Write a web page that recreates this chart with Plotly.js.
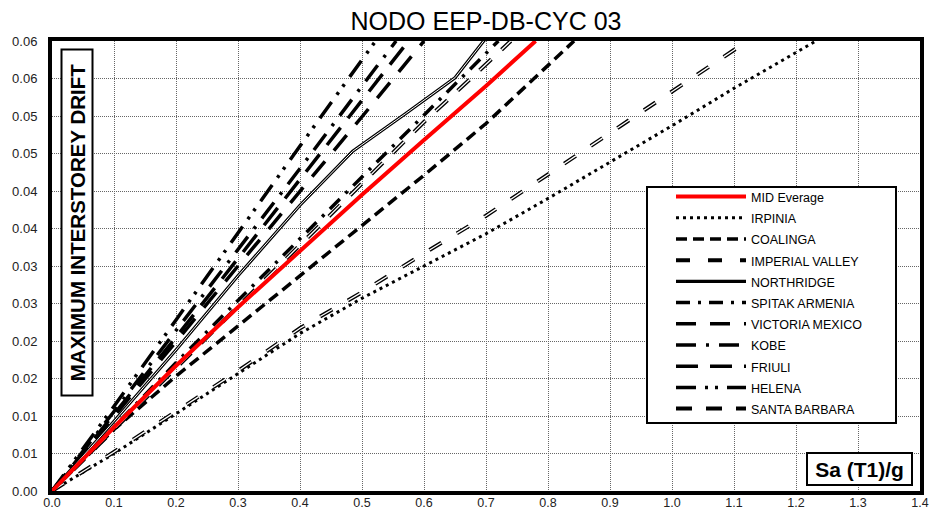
<!DOCTYPE html>
<html><head><meta charset="utf-8">
<script src="https://cdn.plot.ly/plotly-3.0.1.min.js"></script>
<style>html,body{margin:0;padding:0;background:#fff}</style>
</head><body><div id="chart" style="width:932px;height:512px"></div>
<script>
// ---- data (Sa(T1)/g vs maximum interstorey drift) ----
const midX  = [0, 0.1, 0.2, 0.3, 0.4, 0.5, 0.6, 0.7, 0.78];
const midY  = [0, 0.0085, 0.0167, 0.0245, 0.032, 0.0395, 0.0468, 0.054, 0.06];
const irpX  = [0, 0.1, 0.2, 0.3, 0.4, 0.5, 0.6, 0.7, 0.8, 0.9, 1.0, 1.1, 1.2, 1.23];
const irpY  = [0, 0.005, 0.0103, 0.0157, 0.021, 0.0257, 0.030, 0.0343, 0.039, 0.0438, 0.0487, 0.0537, 0.0585, 0.0599];
const coaX  = [0, 0.1, 0.2, 0.3, 0.4, 0.5, 0.6, 0.7, 0.8, 0.842];
const coaY  = [0, 0.0082, 0.0153, 0.022, 0.0288, 0.0354, 0.0421, 0.049, 0.0568, 0.06];
const impX  = [0, 0.1, 0.2, 0.3, 0.4, 0.5, 0.6, 0.7, 0.8, 0.9, 1.0, 1.1, 1.12];
const impY  = [0, 0.0052, 0.0106, 0.016, 0.0217, 0.0265, 0.0317, 0.0367, 0.0422, 0.0477, 0.0533, 0.0588, 0.06];
const norX  = [0, 0.1, 0.2, 0.3, 0.4, 0.485, 0.57, 0.65, 0.70];
const norY  = [0, 0.0093, 0.0188, 0.0287, 0.0381, 0.0453, 0.0503, 0.0551, 0.0604];
const spiX  = [0, 0.1, 0.2, 0.3, 0.4, 0.5, 0.6, 0.7, 0.72];
const spiY  = [0, 0.0086, 0.0171, 0.0254, 0.0336, 0.0418, 0.05, 0.0583, 0.06];
const vicX  = [0, 0.1, 0.2, 0.3, 0.4, 0.5, 0.6];
const vicY  = [0, 0.0099, 0.0199, 0.03, 0.0399, 0.0499, 0.06];
const kobX  = [0, 0.1, 0.2, 0.3, 0.4, 0.5, 0.555];
const kobY  = [0, 0.0106, 0.0214, 0.0322, 0.043, 0.054, 0.06];
const friX  = [0, 0.1, 0.2, 0.3, 0.4, 0.5, 0.575];
const friY  = [0, 0.0102, 0.0205, 0.031, 0.0415, 0.052, 0.06];
const helX  = [0, 0.1, 0.2, 0.3, 0.4, 0.5, 0.522];
const helY  = [0, 0.0113, 0.0228, 0.0345, 0.046, 0.0575, 0.06];
const sbaX  = [0, 0.1, 0.2, 0.3, 0.4, 0.5, 0.6, 0.7, 0.74];
const sbaY  = [0, 0.0082, 0.0163, 0.0245, 0.0327, 0.041, 0.0492, 0.0569, 0.06];

const seriesNames = ['MID Everage','IRPINIA','COALINGA','IMPERIAL VALLEY','NORTHRIDGE',
  'SPITAK ARMENIA','VICTORIA MEXICO','KOBE','FRIULI','HELENA','SANTA BARBARA'];

const xTickVals = [0,0.1,0.2,0.3,0.4,0.5,0.6,0.7,0.8,0.9,1.0,1.1,1.2,1.3,1.4];
const yTickVals = [0,0.005,0.01,0.015,0.02,0.025,0.03,0.035,0.04,0.045,0.05,0.055,0.06];
const yTickText = ['0.00','0.01','0.01','0.02','0.02','0.03','0.03','0.04','0.04','0.05','0.05','0.06','0.06'];

const chartTitle = 'NODO EEP-DB-CYC 03';
const yTitle = 'MAXIMUM INTERSTOREY DRIFT';
const xTitle = 'Sa (T1)/g';

// ---- styles ----
const FONT = 'Liberation Sans, Arial, sans-serif';
function lbl(s){ return '<span style="font-size:12.5px">' + s + '</span>'; }
function tr(x, y, idx, color, width, dash, extra){
  return Object.assign({x:x, y:y, type:'scatter', mode:'lines', name:lbl(seriesNames[idx]),
    legendrank: idx+1, hoverinfo:'skip',
    line:{color:color, width:width, dash:dash}}, extra||{});
}
function hollow(x, y, dash){
  return {x:x, y:y, type:'scatter', mode:'lines', showlegend:false, hoverinfo:'skip',
    line:{color:'#ffffff', width:1.3, dash:dash}};
}
const dImp = '14px,18px', dSba = '16px,14px';
const traces = [
  tr(irpX, irpY, 1, '#000', 3, '3px,4px'),
  tr(impX, impY, 3, '#000', 4, dImp),
  tr(coaX, coaY, 2, '#000', 3.5, '11px,6px'),
  tr(sbaX, sbaY, 10, '#000', 4, dSba),
  tr(spiX, spiY, 5, '#000', 3.5, '14px,8px,3px,8px'),
  tr(norX, norY, 4, '#000', 3.2, 'solid'),
  tr(friX, friY, 8, '#000', 3.5, '22px,12px'),
  tr(vicX, vicY, 6, '#000', 3.5, '20px,14px'),
  tr(kobX, kobY, 7, '#000', 3.5, '20px,10px,3px,10px'),
  tr(helX, helY, 9, '#000', 3.5, '20px,9px,3px,7px,3px,9px'),
  hollow(impX, impY, dImp),
  hollow(sbaX, sbaY, dSba),
  {x:norX, y:norY, type:'scatter', mode:'lines', showlegend:false, hoverinfo:'skip',
    line:{color:'#ffffff', width:1}},
  tr(midX, midY, 0, '#ff0000', 4, 'solid')
];

const pl = 52, pr = 920, pt = 41, pb = 491;
const W = pr - pl, H = pb - pt;
const px = v => (v - pl) / W;
const py = v => (pb - v) / H;

const layout = {
  width: 932, height: 512,
  margin: {l: pl, r: 932 - pr, t: pt, b: 512 - pb, pad: 0},
  paper_bgcolor: '#fff', plot_bgcolor: '#fff',
  font: {family: FONT, color: '#000', size: 13},
  title: {text: chartTitle, font: {family: FONT, size: 25, color: '#000'},
          x: 0.5, xref: 'paper', y: 1 - 21/512, yref: 'container', yanchor: 'middle'},
  xaxis: {range: [0, 1.4], tickvals: xTickVals, tickformat: '.1f', showgrid: true,
          gridcolor: '#666', griddash: '1px,1px', gridwidth: 1, zeroline: false,
          showline: true, mirror: true, linecolor: '#000', linewidth: 4,
          ticks: '', ticklabelstandoff: -3, tickfont: {size: 12.5, family: FONT, color: '#222'}},
  yaxis: {range: [0, 0.06], tickvals: yTickVals, ticktext: yTickText, showgrid: true,
          gridcolor: '#666', griddash: '1px,1px', gridwidth: 1, zeroline: false,
          showline: true, mirror: true, linecolor: '#000', linewidth: 4,
          ticks: '', ticklabelstandoff: 8, tickfont: {size: 13, family: FONT, color: '#222'}},
  showlegend: true,
  legend: {x: px(671), xanchor: 'left', y: py(181), yanchor: 'top',
           bgcolor: 'rgba(0,0,0,0)', borderwidth: 0, itemwidth: 70,
           font: {family: FONT, size: 14, color: '#000'}, traceorder: 'normal'},
  shapes: [
    {type: 'rect', xref: 'paper', yref: 'paper', x0: px(647), x1: px(896), y0: py(423), y1: py(187),
     fillcolor: '#fff', line: {color: '#000', width: 2}, layer: 'above'}
  ],
  annotations: [
    {text: '<b>' + yTitle + '</b>', xref: 'paper', yref: 'paper', x: px(76.5), y: py(223),
     xanchor: 'center', yanchor: 'middle', textangle: -90, showarrow: false,
     font: {family: FONT, size: 20.5, color: '#000'}, bgcolor: '#fff',
     bordercolor: '#000', borderwidth: 2, borderpad: 0, width: 344, height: 29},
    {text: '<b>' + xTitle + '</b>', xref: 'paper', yref: 'paper', x: px(859.5), y: py(469),
     xanchor: 'center', yanchor: 'middle', showarrow: false,
     font: {family: FONT, size: 21, color: '#000'}, bgcolor: '#fff',
     bordercolor: '#000', borderwidth: 2, borderpad: 0, width: 103, height: 30}
  ]
};

Plotly.newPlot('chart', traces, layout, {displayModeBar: false, staticPlot: true});
</script>
</body></html>
